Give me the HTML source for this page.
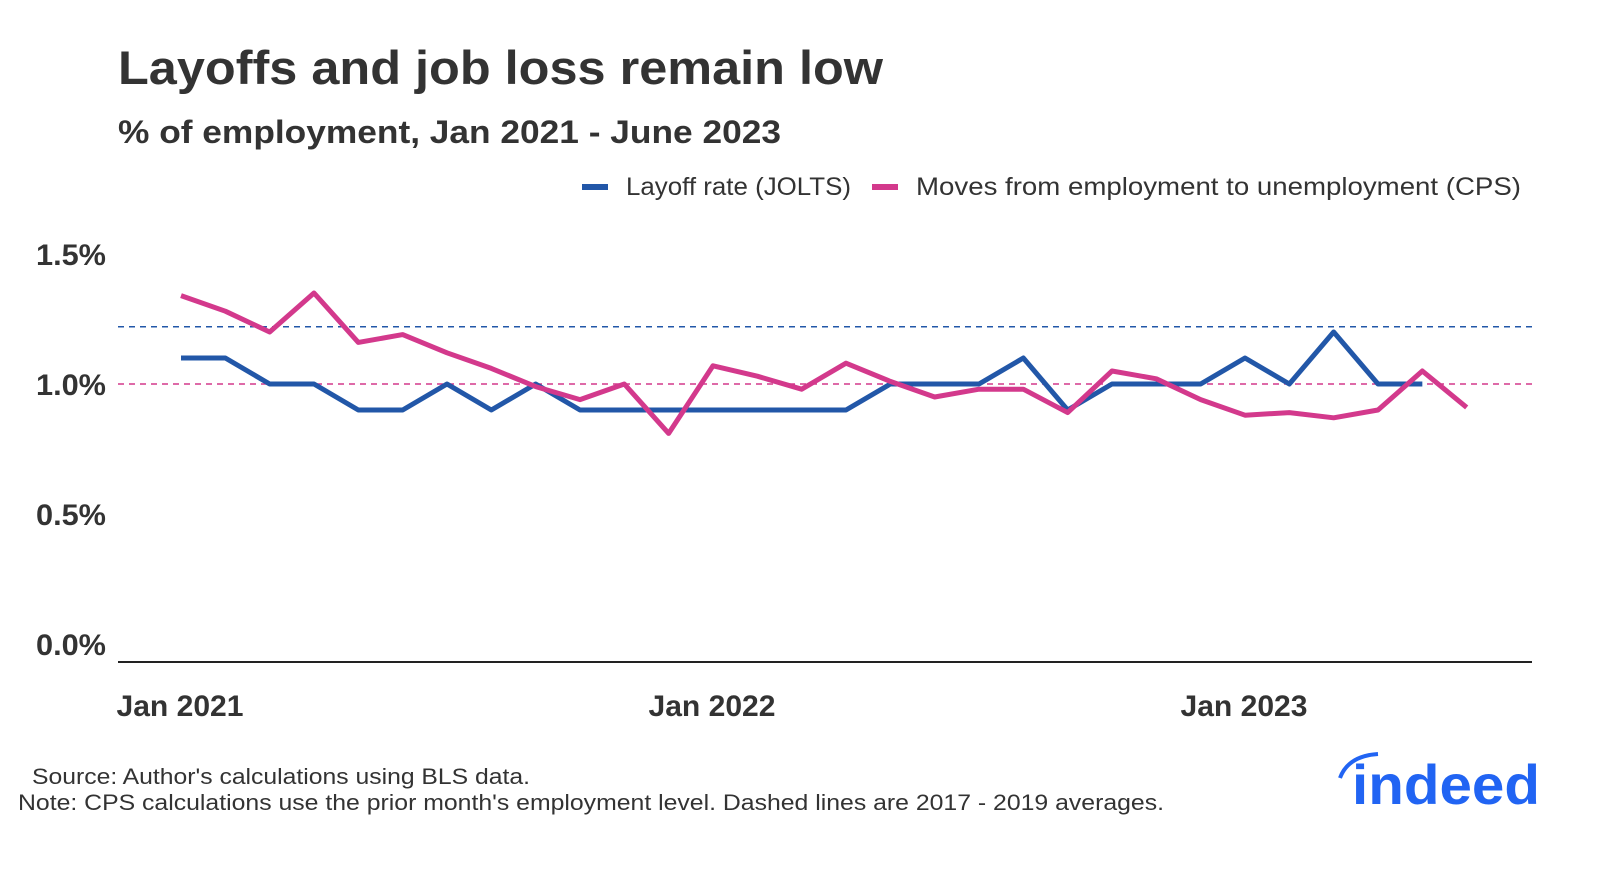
<!DOCTYPE html>
<html><head><meta charset="utf-8"><style>
body{margin:0;width:1600px;height:873px;background:#fff;font-family:"Liberation Sans",sans-serif;overflow:hidden}
svg text{font-family:"Liberation Sans",sans-serif}
</style></head><body>
<svg id="chart" width="1600" height="873">
<text x="118" y="84" font-size="47" font-weight="bold" fill="#333" textLength="765" lengthAdjust="spacingAndGlyphs">Layoffs and job loss remain low</text>
<text x="118" y="143" font-size="32" font-weight="bold" fill="#333" textLength="663" lengthAdjust="spacingAndGlyphs">% of employment, Jan 2021 - June 2023</text>
<g>
<rect x="582" y="184" width="26" height="6" fill="#2257a8"/>
<text x="626" y="195" font-size="25" fill="#333" textLength="225" lengthAdjust="spacingAndGlyphs">Layoff rate (JOLTS)</text>
<rect x="872" y="184" width="26" height="6" fill="#d3398c"/>
<text x="916" y="195" font-size="25" fill="#333" textLength="605" lengthAdjust="spacingAndGlyphs">Moves from employment to unemployment (CPS)</text>
</g>
<g id="yaxis"></g>
<g id="xaxis"></g>
<line x1="118" x2="1532" y1="662" y2="662" stroke="#222" stroke-width="2"/>
<g id="marks"></g>
<text x="32" y="784" font-size="22" fill="#333" textLength="498" lengthAdjust="spacingAndGlyphs">Source: Author's calculations using BLS data.</text>
<text x="18" y="810" font-size="22" fill="#333" textLength="1146" lengthAdjust="spacingAndGlyphs">Note: CPS calculations use the prior month's employment level. Dashed lines are 2017 - 2019 averages.</text>
<g>
<path d="M1340 778 Q1348 756 1378 754" stroke="#2164f3" stroke-width="4" fill="none"/>
<text x="1352" y="804" font-size="56" font-weight="bold" fill="#2164f3" textLength="188" lengthAdjust="spacingAndGlyphs">indeed</text>
</g>
</svg>
<script>
const yTicks=[0,0.5,1.0,1.5];
const yTickLabels=["0.0%","0.5%","1.0%","1.5%"];
const xTickIdx=[0,12,24];
const xTickLabels=["Jan 2021","Jan 2022","Jan 2023"];
const layoffRate=[1.1,1.1,1.0,1.0,0.9,0.9,1.0,0.9,1.0,0.9,0.9,0.9,0.9,0.9,0.9,0.9,1.0,1.0,1.0,1.1,0.9,1.0,1.0,1.0,1.1,1.0,1.2,1.0,1.0];
const cpsMoves=[1.34,1.28,1.20,1.35,1.16,1.19,1.12,1.06,0.99,0.94,1.00,0.81,1.07,1.03,0.98,1.08,1.01,0.95,0.98,0.98,0.89,1.05,1.02,0.94,0.88,0.89,0.87,0.90,1.05,0.91];
const layoffAvg=1.22;
const cpsAvg=1.0;
const NS="http://www.w3.org/2000/svg";
const x=i=>181+i*532/12;
const y=v=>644-v*260;
function mk(tag,attrs,parent){const e=document.createElementNS(NS,tag);for(const k in attrs)e.setAttribute(k,attrs[k]);parent.appendChild(e);return e;}
const ya=document.getElementById('yaxis'),xa=document.getElementById('xaxis'),marks=document.getElementById('marks');
yTicks.forEach((t,i)=>{const e=mk('text',{x:106,y:y(t)+11,'font-size':30,'font-weight':'bold',fill:'#333','text-anchor':'end',textLength:70,lengthAdjust:'spacingAndGlyphs'},ya);e.textContent=yTickLabels[i];

});
xTickIdx.forEach((t,i)=>{const e=mk('text',{x:x(t)-1,y:716,'font-size':30,'font-weight':'bold',fill:'#333','text-anchor':'middle',textLength:127,lengthAdjust:'spacingAndGlyphs'},xa);e.textContent=xTickLabels[i];

});
const d1=mk('line',{x1:118,x2:1532,y1:y(layoffAvg),y2:y(layoffAvg),stroke:'#2257a8','stroke-width':1.5,'stroke-dasharray':'6,5'},marks);


const d2=mk('line',{x1:118,x2:1532,y1:y(cpsAvg),y2:y(cpsAvg),stroke:'#d3398c','stroke-width':1.5,'stroke-dasharray':'6,5'},marks);


const l1=mk('polyline',{points:layoffRate.map((v,i)=>x(i)+','+y(v)).join(' '),fill:'none',stroke:'#2257a8','stroke-width':5,'stroke-linejoin':'round'},marks);


const l2=mk('polyline',{points:cpsMoves.map((v,i)=>x(i)+','+y(v)).join(' '),fill:'none',stroke:'#d3398c','stroke-width':5,'stroke-linejoin':'round'},marks);


</script>
</body></html>
